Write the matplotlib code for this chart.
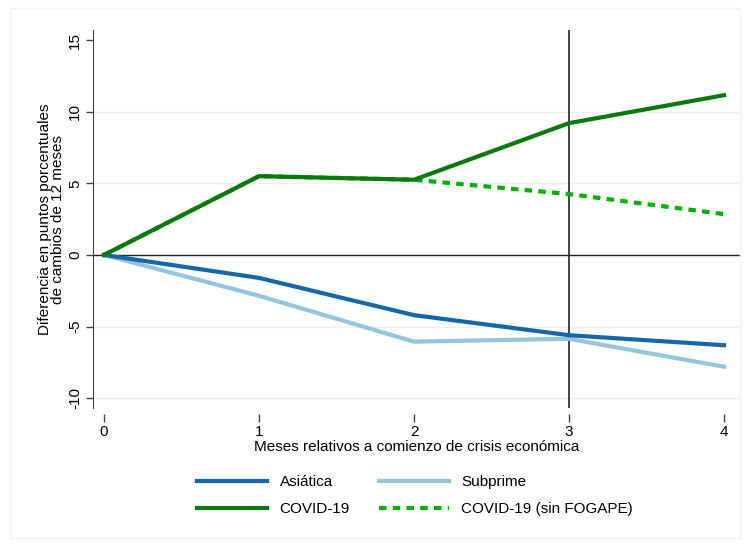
import matplotlib.pyplot as plt
from matplotlib.patches import Rectangle

plt.rcParams['font.family'] = ['Liberation Sans', 'DejaVu Sans']

meses = [0, 1, 2, 3, 4]
asiatica = [0, -1.6, -4.2, -5.6, -6.3]
subprime = [0, -2.85, -6.05, -5.85, -7.8]
covid = [0, 5.5, 5.25, 9.2, 11.15]
covid_sin_fogape = [0, 5.5, 5.25, 4.25, 2.85]

yticks = [-10, -5, 0, 5, 10, 15]

fig = plt.figure(figsize=(7.44, 5.46), dpi=100)
fig.patches.append(Rectangle((10 / 744, 8 / 546), 730 / 744, 530 / 546, transform=fig.transFigure,
                             fill=False, edgecolor='#eef2f5', lw=1.0))
ax = fig.add_axes([93 / 744, 138 / 546, 647 / 744, 378 / 546])

for y in [-10, -5, 5, 10]:
    ax.axhline(y, color='#eaf0f3', lw=1.0, zorder=0)
ax.axhline(0, color='#222222', lw=1.0, zorder=1)
ax.axvline(3, color='#222222', lw=1.2, zorder=1)

ax.plot(meses, asiatica, color='#1467a8', lw=3, label='Asiática', zorder=3)
ax.plot(meses, subprime, color='#93c4e0', lw=3, label='Subprime', zorder=2)
ax.plot(meses, covid_sin_fogape, color='#00b000', lw=3, ls=(0, (1.8, 1.5)),
        label='COVID-19 (sin FOGAPE)', zorder=3)
ax.plot(meses, covid, color='#0a780a', lw=3, label='COVID-19', zorder=4)

ax.set_xlim(-0.071, 4.103)
ax.set_ylim(-10.68, 15.7)
ax.set_xticks(meses)
ax.set_yticks(yticks)
ax.set_yticklabels([str(v) for v in yticks], rotation=90, va='center')
ax.tick_params(axis='y', direction='out', length=5, width=1, labelsize=11, pad=3, color='#444444')
ax.tick_params(axis='x', direction='out', length=6, width=1, labelsize=11, pad=2, color='#444444')

for s in ['top', 'right']:
    ax.spines[s].set_visible(False)
ax.spines['bottom'].set_position(('outward', 4))
ax.spines['bottom'].set_visible(False)
ax.spines['left'].set_color('#444444')

ax.set_xlabel('Meses relativos a comienzo de crisis económica', fontsize=11, labelpad=1)
ax.set_ylabel('Diferencia en puntos porcentuales\nde cambios de 12 meses', fontsize=11,
              labelpad=2, linespacing=0.95)

# legend filled column-wise: Asiática/COVID-19 first, then Subprime/sin FOGAPE
handles, labels = ax.get_legend_handles_labels()
order = [0, 3, 1, 2]
ax.legend([handles[i] for i in order], [labels[i] for i in order],
          ncol=2, loc='upper center', bbox_to_anchor=(0.498, -0.142), frameon=False,
          fontsize=11, handlelength=4.6, handletextpad=0.8, columnspacing=1.9,
          labelspacing=0.85)

fig.savefig('out.png', dpi=100, facecolor='white')
